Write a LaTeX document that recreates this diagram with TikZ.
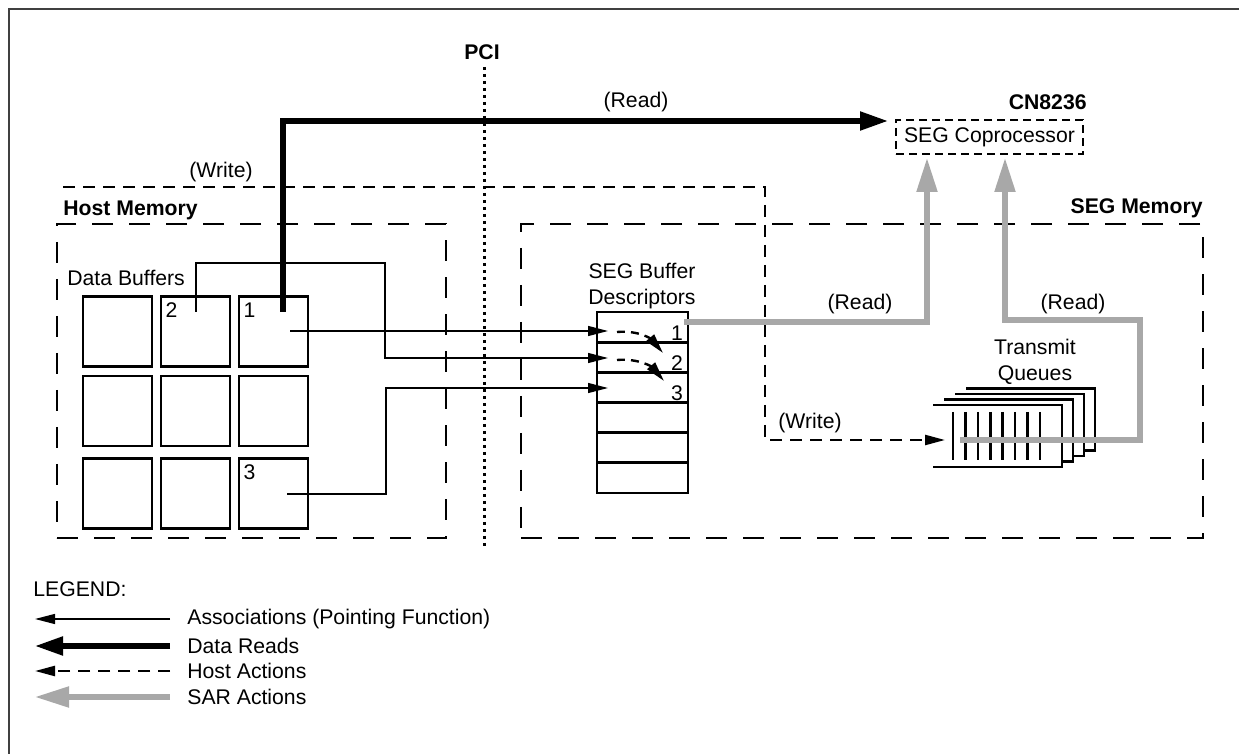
\documentclass[tikz,border=0pt]{standalone}
\usepackage{fontspec}
\setmainfont{Liberation Sans}
\usepackage{xcolor}
\usetikzlibrary{positioning,arrows.meta}
\definecolor{sargray}{HTML}{A8A8A8}
\definecolor{framegray}{HTML}{404040}

\tikzset{
  lbl/.style={inner sep=0pt, font=\fontsize{10.6}{12.7}\selectfont},
  hdr/.style={inner sep=0pt, font=\fontsize{10.6}{12.7}\selectfont\bfseries},
  bufbox/.style={draw, line width=1.4pt, minimum width=34.5pt, minimum height=35pt, inner sep=0pt},
  descrow/.style={draw, line width=1.4pt, minimum width=45.5pt, minimum height=15.1pt, inner sep=0pt},
  membox/.style={draw, line width=1pt, dash pattern=on 10.5pt off 8pt, inner sep=0pt},
  assoc/.style={line width=0.65pt, -{Triangle[length=10pt,width=5pt]}},
  dataread/.style={line width=2.6pt, -{Triangle[length=14pt,width=9pt]}},
  hostact/.style={line width=1.2pt, dash pattern=on 6pt off 4pt, -{Triangle[length=10pt,width=5pt]}},
  saract/.style={line width=2.6pt, draw=sargray, -{Triangle[length=17pt,width=10pt,fill=sargray]}},
}

\begin{document}
\begin{tikzpicture}[x=0.5pt,y=-0.5pt]
  \useasboundingbox (0,0) rectangle (1239,754);
  % frame
  \draw[line width=0.9pt, draw=framegray] (9,754) -- (9,9) -- (1239,9);
  % memory areas
  \node[membox, minimum width=194.5pt, minimum height=157pt] at(251.5,381)(hostmem){};
  \node[membox, minimum width=341pt, minimum height=157pt] at(862,381)(segmem){};
  \draw[line width=1.5pt, dash pattern=on 1.5pt off 2pt] (484,67) -- (484,548);
  % texts
  \node[hdr] at(482,52)(pci){PCI};
  \node[hdr, anchor=east] at(1087,102)(cn){CN8236};
  \node[hdr, anchor=west] at(63,210)(hostlbl){Host Memory};
  \node[hdr, anchor=east] at(1203,208)(seglbl){SEG Memory};
  \node[lbl] at(636,102)(rd1){(Read)};
  \node[lbl] at(221,172)(wr1){(Write)};
  \node[lbl] at(860,304)(rd2){(Read)};
  \node[lbl] at(1073,304)(rd3){(Read)};
  \node[lbl] at(810,423)(wr2){(Write)};
  \node[lbl, anchor=west] at(67,278)(dblbl){Data Buffers};
  \node[lbl, align=center] at(642,286)(sbd){SEG Buffer\\Descriptors};
  \node[lbl, align=center] at(1035,362)(tq){Transmit\\Queues};
  % coprocessor
  \node[lbl, draw, line width=0.9pt, dash pattern=on 4pt off 2.5pt,
        minimum width=93.5pt, minimum height=17pt] at(989.5,137)(cop){SEG Coprocessor};
  % data buffers
  \foreach \c/\x in {1/117.5,2/195.5,3/273.5}
    \foreach \r/\y in {1/331.5,2/411,3/493.5}
      \node[bufbox] at(\x,\y)(b\r\c){};
  \node[lbl, below right=3.6pt and 2.8pt of b12.north west](n2){2};
  \node[lbl, below right=3.6pt and 2.8pt of b13.north west](n1){1};
  \node[lbl, below right=3.6pt and 2.8pt of b33.north west](n3){3};
  % descriptors
  \foreach \i in {1,...,6}
    \node[descrow] at(642.5,{312+30.17*(\i-0.5)})(d\i){};
  \node[lbl, above left=1.4pt and 3pt of d1.south east](m1){1};
  \node[lbl, above left=1.4pt and 3pt of d2.south east](m2){2};
  \node[lbl, above left=1.4pt and 3pt of d3.south east](m3){3};
  % transmit queues
  \foreach \k in {3,2,1,0}{
    \fill[white] (933+11*\k,405-5.5*\k) rectangle (1062+11*\k,467-5.5*\k);
    \draw[line width=1.4pt] (933+11*\k,405-5.5*\k) -- (1062+11*\k,405-5.5*\k)
      -- (1062+11*\k,467-5.5*\k) -- (933+11*\k,467-5.5*\k);
  }
  \foreach \j in {0,...,7}
    \draw[line width=1.3pt] (953+12.4*\j,412) -- (953+12.4*\j,460);
  % connector ends
  \coordinate (a1s) at (290,331);
  \coordinate (a1e) at (608,331);
  \coordinate (a2s) at (196,312);
  \coordinate (a2m) at (385,263);
  \coordinate (a2e) at (608,358);
  \coordinate (a3s) at (287,494);
  \coordinate (a3m) at (386,388);
  \coordinate (a3e) at (608,388);
  \coordinate (r0) at (283,312);
  \coordinate (r1) at (888,121);
  \coordinate (hw0) at (63,187);
  \coordinate (hwc) at (765,440);
  \coordinate (hw1) at (945,440);
  \coordinate (g1s) at (684,322);
  \coordinate (g1e) at (927,158);
  \coordinate (g2s) at (960,440);
  \coordinate (g2m) at (1140,320);
  \coordinate (g2e) at (1005,158);
  \coordinate (c1s) at (617,332);
  \coordinate (c1e) at (663,353);
  \coordinate (c2s) at (617,360);
  \coordinate (c2e) at (664,381);
  % associations
  \draw[assoc] (a1s) -- (a1e);
  \draw[assoc] (a2s) |- (a2m) |- (a2e);
  \draw[assoc] (a3s) -| (a3m) -- (a3e);
  % host actions
  \draw[hostact] (hw0) -| (hwc) -- (hw1);
  \draw[hostact, dash pattern=on 4pt off 3pt] (c1s) .. controls (640,330) and (652,340) .. (c1e);
  \draw[hostact, dash pattern=on 4pt off 3pt] (c2s) .. controls (640,358) and (653,368) .. (c2e);
  % data read
  \draw[dataread] (r0) |- (r1);
  % SAR actions
  \draw[saract] (g1s) -| (g1e);
  \draw[saract] (g2s) -| (g2m) -| (g2e);
  % legend
  \node[lbl, anchor=west] at(33,589)(leg){LEGEND:};
  \foreach \i/\y/\s/\t in {1/619/assoc/{Associations (Pointing Function)},
      2/646/dataread/{Data Reads}, 3/671/hostact/{Host Actions}, 4/697/saract/{SAR Actions}}{
    \coordinate (lgs\i) at (170,\y);
    \coordinate (lge\i) at (35,\y);
    \draw[\s] (lgs\i) -- (lge\i);
    \node[lbl, anchor=west] at(187,\y)(lgt\i){\t};
  }
\end{tikzpicture}
\end{document}
